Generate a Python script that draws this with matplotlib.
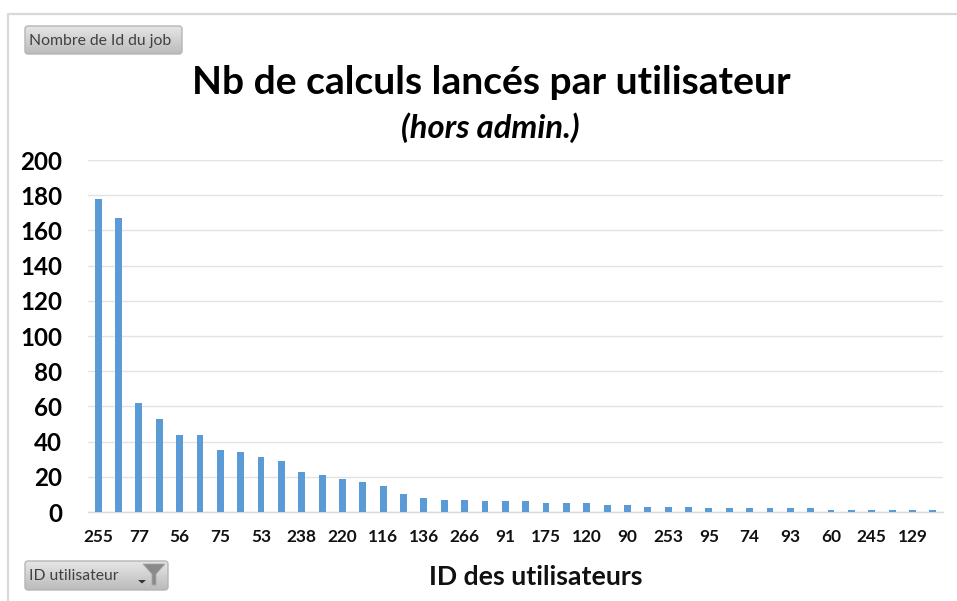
import matplotlib
matplotlib.use("Agg")
import matplotlib.pyplot as plt
from matplotlib.patches import FancyBboxPatch, Polygon
from matplotlib.lines import Line2D
import numpy as np

W, H = 957, 601
user_ids = ['255','','77','','56','','75','','53','','238','','220','','116','','136','','266','',
            '91','','175','','120','','90','','253','','95','','74','','93','','60','','245','','129','']
job_counts = [178,167,62,53,44,44,35,34,31,29,23,21,19,17,15,10,8,7,7,6,6,6,5,5,5,4,4,3,3,3,
              2,2,2,2,2,2,1,1,1,1,1,1]
y_ticks = list(range(0, 201, 20))
title = 'Nb de calculs lancés par utilisateur'
subtitle = '(hors admin.)'
x_title = 'ID des utilisateurs'
value_button = 'Nombre de Id du job'
axis_button = 'ID utilisateur'

plt.rcParams['font.family'] = ['Lato', 'DejaVu Sans']
fig = plt.figure(figsize=(W/100, H/100), dpi=100, facecolor='white')
def px(x, y):
    return x/W, 1-y/H

ax = fig.add_axes([88/W, 1-512/H, (943-88)/W, (512-160)/H])
x = np.arange(len(job_counts))
ax.bar(x, job_counts, width=0.34, color='#5B9BD5', zorder=3)
ax.set_xlim(-0.5, len(job_counts)-0.5)
ax.set_ylim(0, 200)
ax.set_yticks(y_ticks)
ax.set_xticks(x)
ax.set_xticklabels(user_ids, fontsize=12.4, fontweight='bold', color='#111111')
ax.tick_params(axis='x', length=0, pad=12)
ax.tick_params(axis='y', length=0, pad=18.5, labelsize=17.4, labelcolor='black')
for t in ax.get_yticklabels():
    t.set_fontweight('bold')
ax.grid(axis='y', color='#E3E3E3', lw=1, zorder=0)
ax.set_axisbelow(True)
for s in ('top', 'right', 'left'):
    ax.spines[s].set_visible(False)
ax.spines['bottom'].set_color('#DADADA')
ax.spines['bottom'].set_linewidth(1)

# chart frame (top and left only)
fig.add_artist(Line2D([px(8,0)[0], px(8,0)[0], 1], [0, px(0,14)[1], px(0,14)[1]],
                      color='#D9D9D9', lw=1.6, transform=fig.transFigure))

fig.text(*px(491, 83), title, ha='center', va='center', fontsize=28.1, fontweight='bold', color='black')
fig.text(*px(490, 128), subtitle, ha='center', va='center', fontsize=23.6, fontweight='bold',
         fontstyle='italic', color='black')
fig.text(*px(536, 577), x_title, ha='center', va='center', fontsize=19.2, fontweight='bold', color='#111111')

def button(x0, y0, x1, y1, label):
    bg = fig.add_axes([0, 0, 1, 1], facecolor='none', zorder=5)
    bg.set_xlim(0, W); bg.set_ylim(H, 0); bg.axis('off')
    patch = FancyBboxPatch((x0+2, y0+2), x1-x0-4, y1-y0-4, boxstyle='round,pad=2,rounding_size=3',
                           fc='none', ec='#B5B5B5', lw=1)
    bg.add_patch(patch)
    grad = np.linspace(0, 1, 64).reshape(-1, 1)
    im = bg.imshow(grad, extent=(x0, x1, y1, y0), cmap=matplotlib.colors.LinearSegmentedColormap.from_list(
        'b', ['#E6E6E6', '#BBBBBB']), aspect='auto', zorder=0)
    im.set_clip_path(patch)
    bg.set_xlim(0, W); bg.set_ylim(H, 0)
    bg.text(x0+4, (y0+y1)/2 + 1, label, ha='left', va='center', fontsize=11.3, color='#404040')
    return bg

button(25, 26, 182, 54, value_button)
b2 = button(25, 561, 168, 590, axis_button)
b2.add_patch(Polygon([(138, 580), (146, 580), (142, 583.5)], fc='#333333', ec='none'))
b2.add_patch(Polygon([(143, 564), (165, 564), (156, 574), (156, 585), (152, 585), (152, 574)],
                     fc='#8A8A8A', ec='#A5A5A5', lw=0.6))

fig.savefig('out.png', dpi=100, facecolor='white')
